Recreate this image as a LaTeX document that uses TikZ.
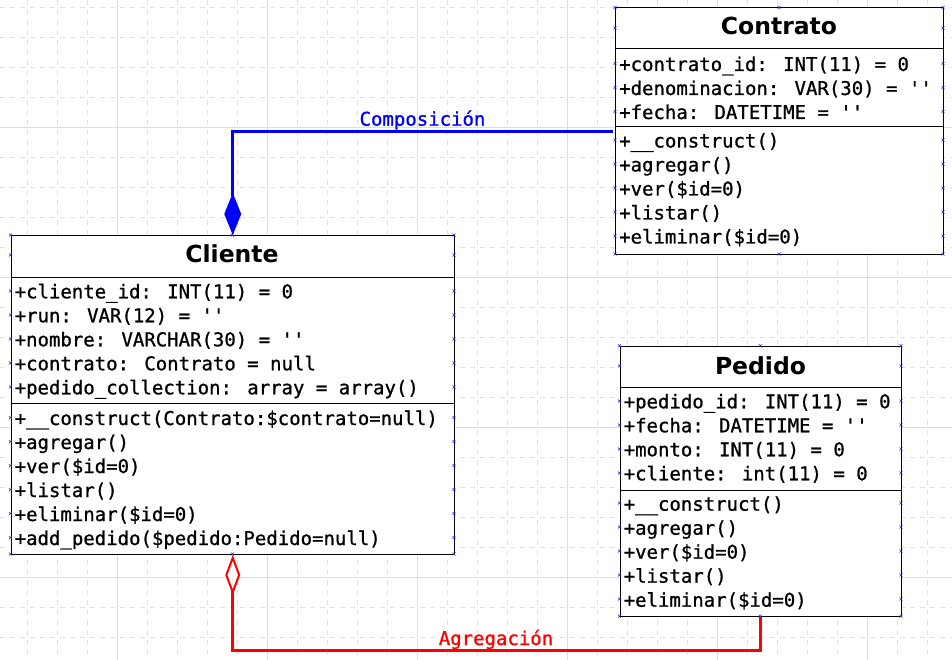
\documentclass[tikz,border=0pt]{standalone}
\usepackage{fontspec}
\newfontfamily\monof[FakeBold=0.9]{DejaVu Sans Mono}
\newfontfamily\titlef{DejaVu Sans}
\usetikzlibrary{arrows.meta}
\definecolor{gridmaj}{RGB}{212,226,226}
\definecolor{gridmin}{RGB}{222,228,228}
\definecolor{cpblue}{RGB}{40,40,230}
\begin{document}
\begin{tikzpicture}[x=1pt,y=-1pt,
  umlbox/.style={draw=black,line width=1pt,fill=white,inner sep=0pt,anchor=north west},
  member/.style={font=\monof\fontsize{19}{24}\selectfont,inner sep=0pt,anchor=base west},
  umltitle/.style={font=\titlef\bfseries\fontsize{23.5}{28}\selectfont,inner sep=0pt,anchor=base},
  seprule/.style={line width=1pt},
  comp/.style={draw=blue,line width=2.8pt,-{Diamond[length=42pt,width=17pt,line width=0pt]}},
  agg/.style={draw=red,line width=2.8pt,-{Diamond[open,fill=white,length=40pt,width=15pt,line width=2pt]}},
  lbl/.style={font=\monof\fontsize{19}{24}\selectfont,inner sep=0pt,anchor=base},
  cp/.style={draw=cpblue,line width=0.6pt}
]
\useasboundingbox (0,0) rectangle (952,660);
\fill[white] (0,0) rectangle (952,660);
% grid
\foreach \k in {0,...,31} {
  \pgfmathsetmacro{\xx}{27.5+30*\k}
  \pgfmathtruncatemacro{\m}{mod(\k,5)}
  \ifnum\m=3
    \draw[gridmaj,line width=1pt] (\xx,0) -- (\xx,660);
  \else
    \draw[gridmin,line width=1pt,dash pattern=on 5pt off 5pt] (\xx,0) -- (\xx,660);
  \fi
}
\foreach \k in {0,...,21} {
  \pgfmathsetmacro{\yy}{7.3+30*\k}
  \pgfmathtruncatemacro{\m}{mod(\k,5)}
  \ifnum\m=4
    \draw[gridmaj,line width=1pt] (0,\yy) -- (952,\yy);
  \else
    \draw[gridmin,line width=1pt,dash pattern=on 5pt off 5pt] (0,\yy) -- (952,\yy);
  \fi
}

% ---------- Contrato ----------
\node[umlbox,minimum width=328pt,minimum height=246.5pt] (contrato) at (615,7.5) {};
\draw[seprule] (615,49) -- (943,49);
\draw[seprule] (615,127) -- (943,127);
\node[umltitle] (contratoT) at (779,35) {Contrato};
\node[member] (c1) at (619,71) {+contrato\_id: INT(11) = 0};
\node[member] (c2) at (619,95) {+denominacion: VAR(30) = ''};
\node[member] (c3) at (619,119) {+fecha: DATETIME = ''};
\node[member] (c4) at (619,147.5) {+\_\_construct()};
\node[member] (c5) at (619,171.5) {+agregar()};
\node[member] (c6) at (619,195.5) {+ver(\$id=0)};
\node[member] (c7) at (619,219.5) {+listar()};
\node[member] (c8) at (619,243.5) {+eliminar(\$id=0)};

% ---------- Cliente ----------
\node[umlbox,minimum width=443.5pt,minimum height=319pt] (cliente) at (10.5,235) {};
\draw[seprule] (10.5,277) -- (454,277);
\draw[seprule] (10.5,403) -- (454,403);
\node[umltitle] (clienteT) at (232,262.3) {Cliente};
\node[member] (k1) at (14.5,298.3) {+cliente\_id: INT(11) = 0};
\node[member] (k2) at (14.5,322.3) {+run: VAR(12) = ''};
\node[member] (k3) at (14.5,346.3) {+nombre: VARCHAR(30) = ''};
\node[member] (k4) at (14.5,370.3) {+contrato: Contrato = null};
\node[member] (k5) at (14.5,394.3) {+pedido\_collection: array = array()};
\node[member] (k6) at (14.5,425) {+\_\_construct(Contrato:\$contrato=null)};
\node[member] (k7) at (14.5,449) {+agregar()};
\node[member] (k8) at (14.5,473) {+ver(\$id=0)};
\node[member] (k9) at (14.5,497) {+listar()};
\node[member] (k10) at (14.5,521) {+eliminar(\$id=0)};
\node[member] (k11) at (14.5,545) {+add\_pedido(\$pedido:Pedido=null)};

% ---------- Pedido ----------
\node[umlbox,minimum width=281.5pt,minimum height=270.5pt] (pedido) at (619.5,345.7) {};
\draw[seprule] (619.5,387) -- (901,387);
\draw[seprule] (619.5,490.5) -- (901,490.5);
\node[umltitle] (pedidoT) at (760.5,374) {Pedido};
\node[member] (p1) at (623.5,408.3) {+pedido\_id: INT(11) = 0};
\node[member] (p2) at (623.5,432.3) {+fecha: DATETIME = ''};
\node[member] (p3) at (623.5,456.3) {+monto: INT(11) = 0};
\node[member] (p4) at (623.5,480.3) {+cliente: int(11) = 0};
\node[member] (p5) at (623.5,510.7) {+\_\_construct()};
\node[member] (p6) at (623.5,534.7) {+agregar()};
\node[member] (p7) at (623.5,558.7) {+ver(\$id=0)};
\node[member] (p8) at (623.5,582.7) {+listar()};
\node[member] (p9) at (623.5,606.7) {+eliminar(\$id=0)};

% ---------- connection point marks ----------
\foreach \bx/\by/\bw/\ys in {
  615/7.5/328/{7.5,28,63.5,87.5,111.5,140,164,188,212,236,254},
  10.5/235/443.5/{235,255,291,315,339,363,387,417.5,441.5,465.5,489.5,513.5,537.5,554},
  619.5/345.7/281.5/{345.7,366,401,425,449,473,503,527,551,575,599,616.2}} {
  \foreach \yy in \ys {
    \draw[cp] (\bx-1.5,\yy-1.5) -- (\bx+1.5,\yy+1.5) (\bx-1.5,\yy+1.5) -- (\bx+1.5,\yy-1.5);
    \draw[cp] (\bx+\bw-1.5,\yy-1.5) -- (\bx+\bw+1.5,\yy+1.5) (\bx+\bw-1.5,\yy+1.5) -- (\bx+\bw+1.5,\yy-1.5);
  }
}
\foreach \mx/\my in {779/7.5,779/254,232.25/235,232.25/554,760.25/345.7,760.25/616.2} {
  \draw[cp] (\mx-1.5,\my-1.5) -- (\mx+1.5,\my+1.5) (\mx-1.5,\my+1.5) -- (\mx+1.5,\my-1.5);
}

% ---------- connectors ----------
\coordinate (compstart) at ([xshift=-2.5pt]contrato.west);
\draw[comp] (compstart) -| (cliente.north);
\node[lbl,text=blue] (complbl) at (422.5,125.7) {Composición};

\coordinate (aggcorner) at ([yshift=-33pt]pedido.south);
\draw[agg] (pedido.south) -- (aggcorner) -| (cliente.south);
\node[lbl,text=red] (agglbl) at (496,645) {Agregación};
\end{tikzpicture}
\end{document}
